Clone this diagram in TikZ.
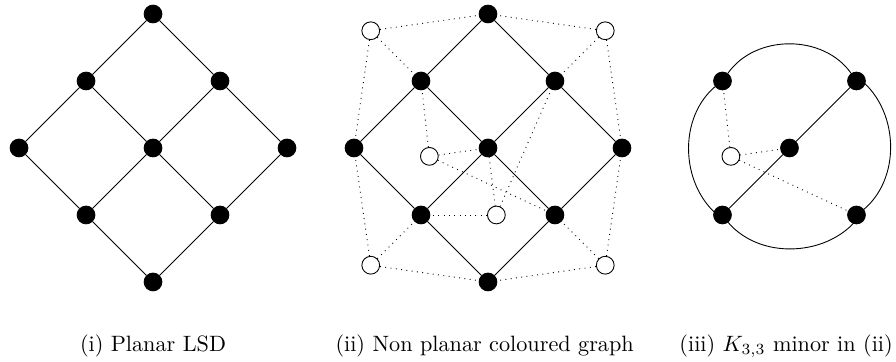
\documentclass[tikz,border=0pt]{standalone}
\usepackage{tikz}
\usetikzlibrary{positioning}

\begin{document}
\begin{tikzpicture}[
  x=1.06cm, y=1.06cm,
  vtx/.style={circle, fill=black, draw=black, inner sep=0pt, minimum size=8pt},
  wvtx/.style={circle, fill=white, draw=black, inner sep=0pt, minimum size=8pt},
  col/.style={dotted},
  subcap/.style={font=\normalsize}
]
\useasboundingbox (-2.284,-3.194) rectangle (11.09,2.209);

% (i) planar LSD
\node[vtx] (p-t)  at (0,2) {};
\node[vtx] (p-tl) at (-1,1) {};
\node[vtx] (p-tr) at (1,1) {};
\node[vtx] (p-l)  at (-2,0) {};
\node[vtx] (p-m)  at (0,0) {};
\node[vtx] (p-r)  at (2,0) {};
\node[vtx] (p-bl) at (-1,-1) {};
\node[vtx] (p-br) at (1,-1) {};
\node[vtx] (p-b)  at (0,-2) {};
\draw (p-t) -- (p-tl) -- (p-l) -- (p-bl) -- (p-b) -- (p-br) -- (p-r) -- (p-tr) -- (p-t);
\draw (p-tl) -- (p-m) -- (p-br);
\draw (p-tr) -- (p-m) -- (p-bl);

% (ii) coloured graph
\node[vtx] (c-t)  at (5,2) {};
\node[vtx] (c-tl) at (4,1) {};
\node[vtx] (c-tr) at (6,1) {};
\node[vtx] (c-l)  at (3,0) {};
\node[vtx] (c-m)  at (5,0) {};
\node[vtx] (c-r)  at (7,0) {};
\node[vtx] (c-bl) at (4,-1) {};
\node[vtx] (c-br) at (6,-1) {};
\node[vtx] (c-b)  at (5,-2) {};
\node[wvtx] (w-tl) at (3.25,1.75) {};
\node[wvtx] (w-tr) at (6.75,1.75) {};
\node[wvtx] (w-bl) at (3.25,-1.75) {};
\node[wvtx] (w-br) at (6.75,-1.75) {};
\node[wvtx] (w-a)  at (4.125,-0.125) {};
\node[wvtx] (w-b)  at (5.125,-1) {};
\draw (c-t) -- (c-tl) -- (c-l) -- (c-bl) -- (c-b) -- (c-br) -- (c-r) -- (c-tr) -- (c-t);
\draw (c-tl) -- (c-m) -- (c-br);
\draw (c-tr) -- (c-m) -- (c-bl);
\draw[col] (w-tl) -- (c-t);  \draw[col] (w-tl) -- (c-tl); \draw[col] (w-tl) -- (c-l);
\draw[col] (w-tr) -- (c-t);  \draw[col] (w-tr) -- (c-tr); \draw[col] (w-tr) -- (c-r);
\draw[col] (w-bl) -- (c-b);  \draw[col] (w-bl) -- (c-bl); \draw[col] (w-bl) -- (c-l);
\draw[col] (w-br) -- (c-b);  \draw[col] (w-br) -- (c-br); \draw[col] (w-br) -- (c-r);
\draw[col] (w-a) -- (c-tl);  \draw[col] (w-a) -- (c-m);   \draw[col] (w-a) -- (c-br);
\draw[col] (w-b) -- (c-bl);  \draw[col] (w-b) -- (c-m);   \draw[col] (w-b) -- (c-tr);

% (iii) K_{3,3} minor
\node[vtx] (k-tl) at (8.5,1) {};
\node[vtx] (k-tr) at (10.5,1) {};
\node[vtx] (k-m)  at (9.5,0) {};
\node[vtx] (k-bl) at (8.5,-1) {};
\node[vtx] (k-br) at (10.5,-1) {};
\node[wvtx] (k-w) at (8.625,-0.125) {};
\draw (k-bl) -- (k-m) -- (k-tr);
\draw (k-tl) to[bend left=55] (k-tr) to[bend left=55] (k-br)
      to[bend left=55] (k-bl) to[bend left=55] (k-tl);
\draw[col] (k-w) -- (k-tl); \draw[col] (k-w) -- (k-m); \draw[col] (k-w) -- (k-br);

% captions
\node[subcap] (cap-i)   at (0,-2.955)    {(i) Planar LSD};
\node[subcap] (cap-ii)  at (4.95,-2.955) {(ii) Non planar coloured graph};
\node[subcap] (cap-iii) at (9.45,-2.955) {(iii) $K_{3,3}$ minor in (ii)};
\end{tikzpicture}
\end{document}
